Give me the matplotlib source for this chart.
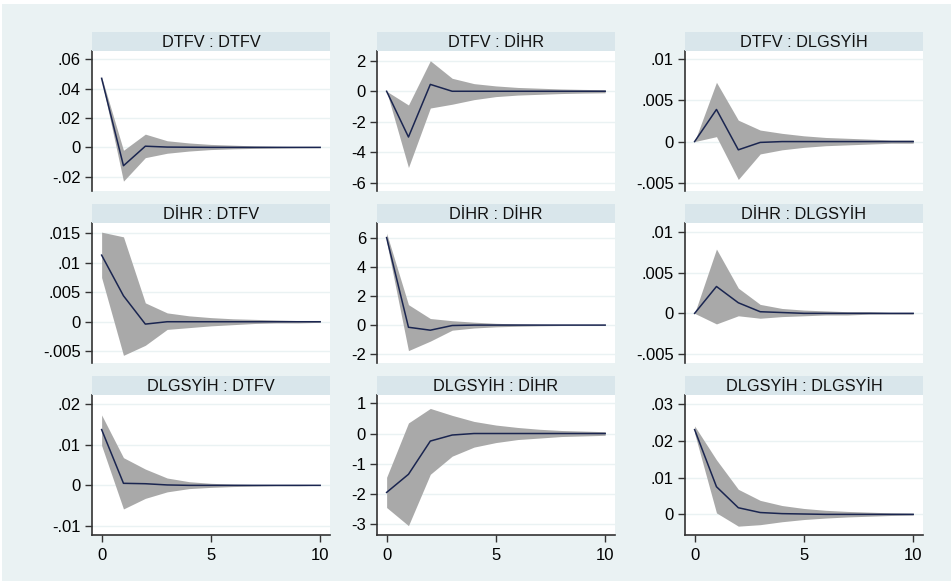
import numpy as np
import matplotlib.pyplot as plt
from matplotlib.patches import Rectangle

plt.rcParams['font.family'] = ['Liberation Sans', 'DejaVu Sans']

# horizon steps
steps = list(range(11))

titles = ['DTFV : DTFV', 'DTFV : DİHR', 'DTFV : DLGSYİH',
          'DİHR : DTFV', 'DİHR : DİHR', 'DİHR : DLGSYİH',
          'DLGSYİH : DTFV', 'DLGSYİH : DİHR', 'DLGSYİH : DLGSYİH']

# impulse responses
irf1 = [0.047, -0.0125, 0.0008, 0.0002, 0.0001, 0, 0, 0, 0, 0, 0]
lo1 = [0.046, -0.023, -0.007, -0.004, -0.0025, -0.0015, -0.001, -0.0007, -0.0005, -0.0003, -0.0002]
hi1 = [0.048, -0.002, 0.009, 0.0045, 0.003, 0.002, 0.0015, 0.001, 0.0007, 0.0005, 0.0003]

irf2 = [0, -3.0, 0.45, 0.0, 0.0, 0, 0, 0, 0, 0, 0]
lo2 = [0, -5.0, -1.1, -0.85, -0.55, -0.35, -0.25, -0.2, -0.15, -0.12, -0.1]
hi2 = [0, -0.9, 2.0, 0.85, 0.5, 0.35, 0.25, 0.2, 0.15, 0.12, 0.1]

irf3 = [0, 0.0039, -0.0010, -0.0001, 0, 0, 0, 0, 0, 0, 0]
lo3 = [0, 0.0006, -0.0046, -0.0015, -0.001, -0.0007, -0.0005, -0.0004, -0.0003, -0.0002, -0.0002]
hi3 = [0, 0.0072, 0.0026, 0.0014, 0.001, 0.0007, 0.0005, 0.0004, 0.0003, 0.0002, 0.0002]

irf4 = [0.0113, 0.0044, -0.0004, 0.0, 0, 0, 0, 0, 0, 0, 0]
lo4 = [0.0075, -0.0057, -0.004, -0.0013, -0.001, -0.0007, -0.0005, -0.0003, -0.0002, -0.0002, -0.0001]
hi4 = [0.0152, 0.0144, 0.0032, 0.0015, 0.001, 0.0007, 0.0005, 0.0004, 0.0003, 0.0002, 0.0001]

irf5 = [6.0, -0.15, -0.35, -0.03, 0, 0, 0, 0, 0, 0, 0]
lo5 = [5.7, -1.75, -1.1, -0.35, -0.2, -0.12, -0.08, -0.05, -0.03, -0.02, -0.02]
hi5 = [6.3, 1.4, 0.45, 0.3, 0.2, 0.12, 0.08, 0.05, 0.03, 0.02, 0.02]

irf6 = [0, 0.0033, 0.0013, 0.0002, 0.0001, 0, 0, 0, 0, 0, 0]
lo6 = [0, -0.0013, -0.0003, -0.0006, -0.0004, -0.0003, -0.0002, -0.0002, -0.0001, -0.0001, -0.0001]
hi6 = [0, 0.0079, 0.0031, 0.0011, 0.0006, 0.0004, 0.0003, 0.0002, 0.0002, 0.0001, 0.0001]

irf7 = [0.0137, 0.0005, 0.0004, 0.0001, 0, 0, 0, 0, 0, 0, 0]
lo7 = [0.0098, -0.0058, -0.0032, -0.0016, -0.0008, -0.0005, -0.0003, -0.0002, -0.0001, -0.0001, 0]
hi7 = [0.0173, 0.0068, 0.004, 0.0018, 0.0009, 0.0005, 0.0003, 0.0002, 0.0001, 0.0001, 0]

irf8 = [-1.95, -1.35, -0.25, -0.05, 0, 0, 0, 0, 0, 0, 0]
lo8 = [-2.45, -3.05, -1.35, -0.75, -0.45, -0.3, -0.2, -0.15, -0.1, -0.08, -0.06]
hi8 = [-1.45, 0.35, 0.83, 0.6, 0.4, 0.28, 0.2, 0.14, 0.1, 0.08, 0.06]

irf9 = [0.023, 0.0075, 0.0018, 0.0005, 0.0002, 0.0001, 0, 0, 0, 0, 0]
lo9 = [0.022, 0.0004, -0.0032, -0.0028, -0.002, -0.0014, -0.001, -0.0007, -0.0005, -0.0003, -0.0002]
hi9 = [0.024, 0.0148, 0.0068, 0.0038, 0.0024, 0.0016, 0.0011, 0.0008, 0.0006, 0.0004, 0.0003]

irfs = [irf1, irf2, irf3, irf4, irf5, irf6, irf7, irf8, irf9]
lows = [lo1, lo2, lo3, lo4, lo5, lo6, lo7, lo8, lo9]
highs = [hi1, hi2, hi3, hi4, hi5, hi6, hi7, hi8, hi9]

yticks = [[0.06, 0.04, 0.02, 0, -0.02], [2, 0, -2, -4, -6], [0.01, 0.005, 0, -0.005],
          [0.015, 0.01, 0.005, 0, -0.005], [6, 4, 2, 0, -2], [0.01, 0.005, 0, -0.005],
          [0.02, 0.01, 0, -0.01], [1, 0, -1, -2, -3], [0.03, 0.02, 0.01, 0]]
ylabels = [['.06', '.04', '.02', '0', '-.02'], ['2', '0', '-2', '-4', '-6'], ['.01', '.005', '0', '-.005'],
           ['.015', '.01', '.005', '0', '-.005'], ['6', '4', '2', '0', '-2'], ['.01', '.005', '0', '-.005'],
           ['.02', '.01', '0', '-.01'], ['1', '0', '-1', '-2', '-3'], ['.03', '.02', '.01', '0']]
ylims = [(-0.0297, 0.0656), (-6.54, 2.64), (-0.0060, 0.0110),
         (-0.0070, 0.01675), (-2.6, 7.0), (-0.0061, 0.0111),
         (-0.0122, 0.0222), (-3.36, 1.275), (-0.0056, 0.0324)]

W, H = 951, 581
bg = '#EAF2F3'
strip = '#D9E6EB'
band = '#A9A9A9'
navy = '#1A2550'

fig = plt.figure(figsize=(W / 100, H / 100), dpi=100, facecolor='white')
fig.patches.append(Rectangle((2 / W, 0), 1 - 2 / W, 1 - 4 / H, transform=fig.transFigure,
                             facecolor=bg, edgecolor='none', zorder=-10))

lefts = [92, 377, 685]
tops = [51, 223, 395]
pw, ph, sh = 238, 140, 19

for k in range(9):
    r, c = divmod(k, 3)
    x0, y0 = lefts[c], tops[r]
    ax = fig.add_axes([x0 / W, 1 - (y0 + ph) / H, pw / W, ph / H])
    ax.fill_between(steps, lows[k], highs[k], color=band, linewidth=0, zorder=2)
    ax.plot(steps, irfs[k], color=navy, linewidth=1.1, zorder=3)
    ax.set_xlim(-0.44, 10.45)
    ax.set_ylim(*ylims[k])
    ax.set_yticks(yticks[k])
    ax.set_yticklabels(ylabels[k])
    for t in yticks[k]:
        ax.axhline(t, color=bg, linewidth=1.0, zorder=1)
    for s in ['top', 'right']:
        ax.spines[s].set_visible(False)
    ax.spines['left'].set_color('#333333')
    ax.spines['left'].set_linewidth(1.2)
    ax.tick_params(axis='y', length=5, width=1, color='#333333', labelsize=12, pad=3)
    if r == 2:
        ax.set_xticks([0, 5, 10])
        ax.spines['bottom'].set_color('#333333')
        ax.spines['bottom'].set_linewidth(1.2)
        ax.tick_params(axis='x', length=5, width=1, color='#333333', labelsize=12, pad=4)
    else:
        ax.set_xticks([])
        ax.spines['bottom'].set_visible(False)
    # title strip
    sax = fig.add_axes([x0 / W, 1 - y0 / H, pw / W, sh / H])
    sax.set_facecolor(strip)
    sax.set_xticks([])
    sax.set_yticks([])
    for s in sax.spines.values():
        s.set_visible(False)
    sax.text(0.5, 0.45, titles[k], ha='center', va='center', fontsize=11.7, color='#111111',
             transform=sax.transAxes)

fig.savefig('out.png', dpi=100, facecolor=fig.get_facecolor())
